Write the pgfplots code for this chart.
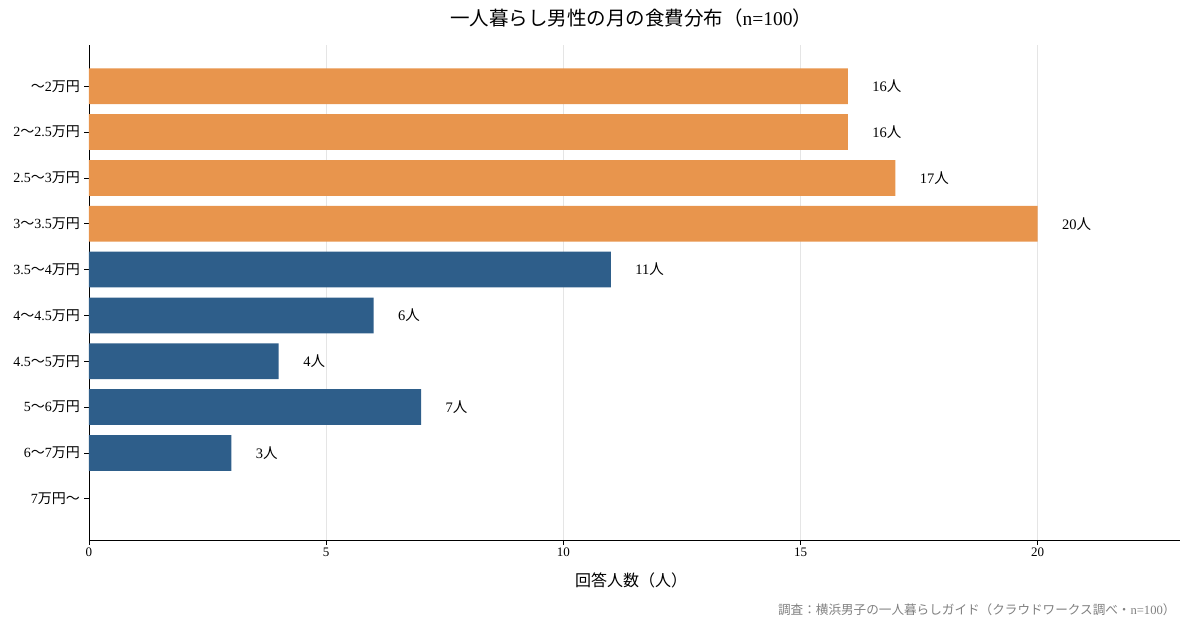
\documentclass[border=0pt]{standalone}
\usepackage{fontspec}
\setmainfont{Liberation Serif}
\newfontfamily\jp{Noto Sans CJK JP}
\usepackage{pgfplots}
\pgfplotsset{compat=1.18}
\definecolor{orng}{RGB}{232,149,77}
\definecolor{blu}{RGB}{46,94,138}
\newcommand{\J}[1]{{\jp #1}}
\begin{document}
\begin{tikzpicture}[x=1pt,y=1pt]
\useasboundingbox (-89,-89) rectangle (1104,540);
\begin{axis}[
 at={(0,0)}, anchor=south west,
 scale only axis, width=1091pt, height=495pt,
 xbar, bar width=0.78, bar shift=0pt,
 xmin=0, xmax=23, ymin=-0.9, ymax=9.9, y dir=reverse,
 ytick={0,...,9},
 yticklabels={\J{～}2\J{万円}, 2\J{～}2.5\J{万円}, 2.5\J{～}3\J{万円}, 3\J{～}3.5\J{万円}, 3.5\J{～}4\J{万円}, 4\J{～}4.5\J{万円}, 4.5\J{～}5\J{万円}, 5\J{～}6\J{万円}, 6\J{～}7\J{万円}, 7\J{万円～}},
 xtick={0,5,10,15,20},
 axis x line*=bottom, axis y line*=left,
 xmajorgrids, grid style={gray!20, line width=0.6pt},
 tick align=outside, major tick length=4.5pt,
 tick style={black, line width=0.6pt},
 axis line style={line width=0.8pt},
 yticklabel style={font=\fontsize{14}{16}\selectfont, inner sep=4.5pt},
 xticklabel style={font=\fontsize{13}{15}\selectfont},
 /pgf/number format/assume math mode=true,
 point meta=x,
 nodes near coords={\pgfmathprintnumber{\pgfplotspointmeta}\J{人}},
 nodes near coords style={anchor=west, xshift=21pt, font=\fontsize{14.5}{17}\selectfont, text=black},
]
\addplot[fill=orng, draw=none] coordinates {(16,0) (16,1) (17,2) (20,3)};
\addplot[fill=blu, draw=none] coordinates {(11,4) (6,5) (4,6) (7,7) (3,8)};
\end{axis}
\node[font=\fontsize{19.5}{23}\selectfont] at (542,522) {\J{一人暮らし男性の月の食費分布（}n=100\J{）}};
\node[font=\fontsize{16}{19}\selectfont] at (542,-40) {\J{回答人数（人）}};
\node[anchor=east, text=gray, font=\fontsize{12.6}{15}\selectfont] at (1090,-70) {\J{調査：横浜男子の一人暮らしガイド（クラウドワークス調べ・}n=100\J{）}};
\end{tikzpicture}
\end{document}
